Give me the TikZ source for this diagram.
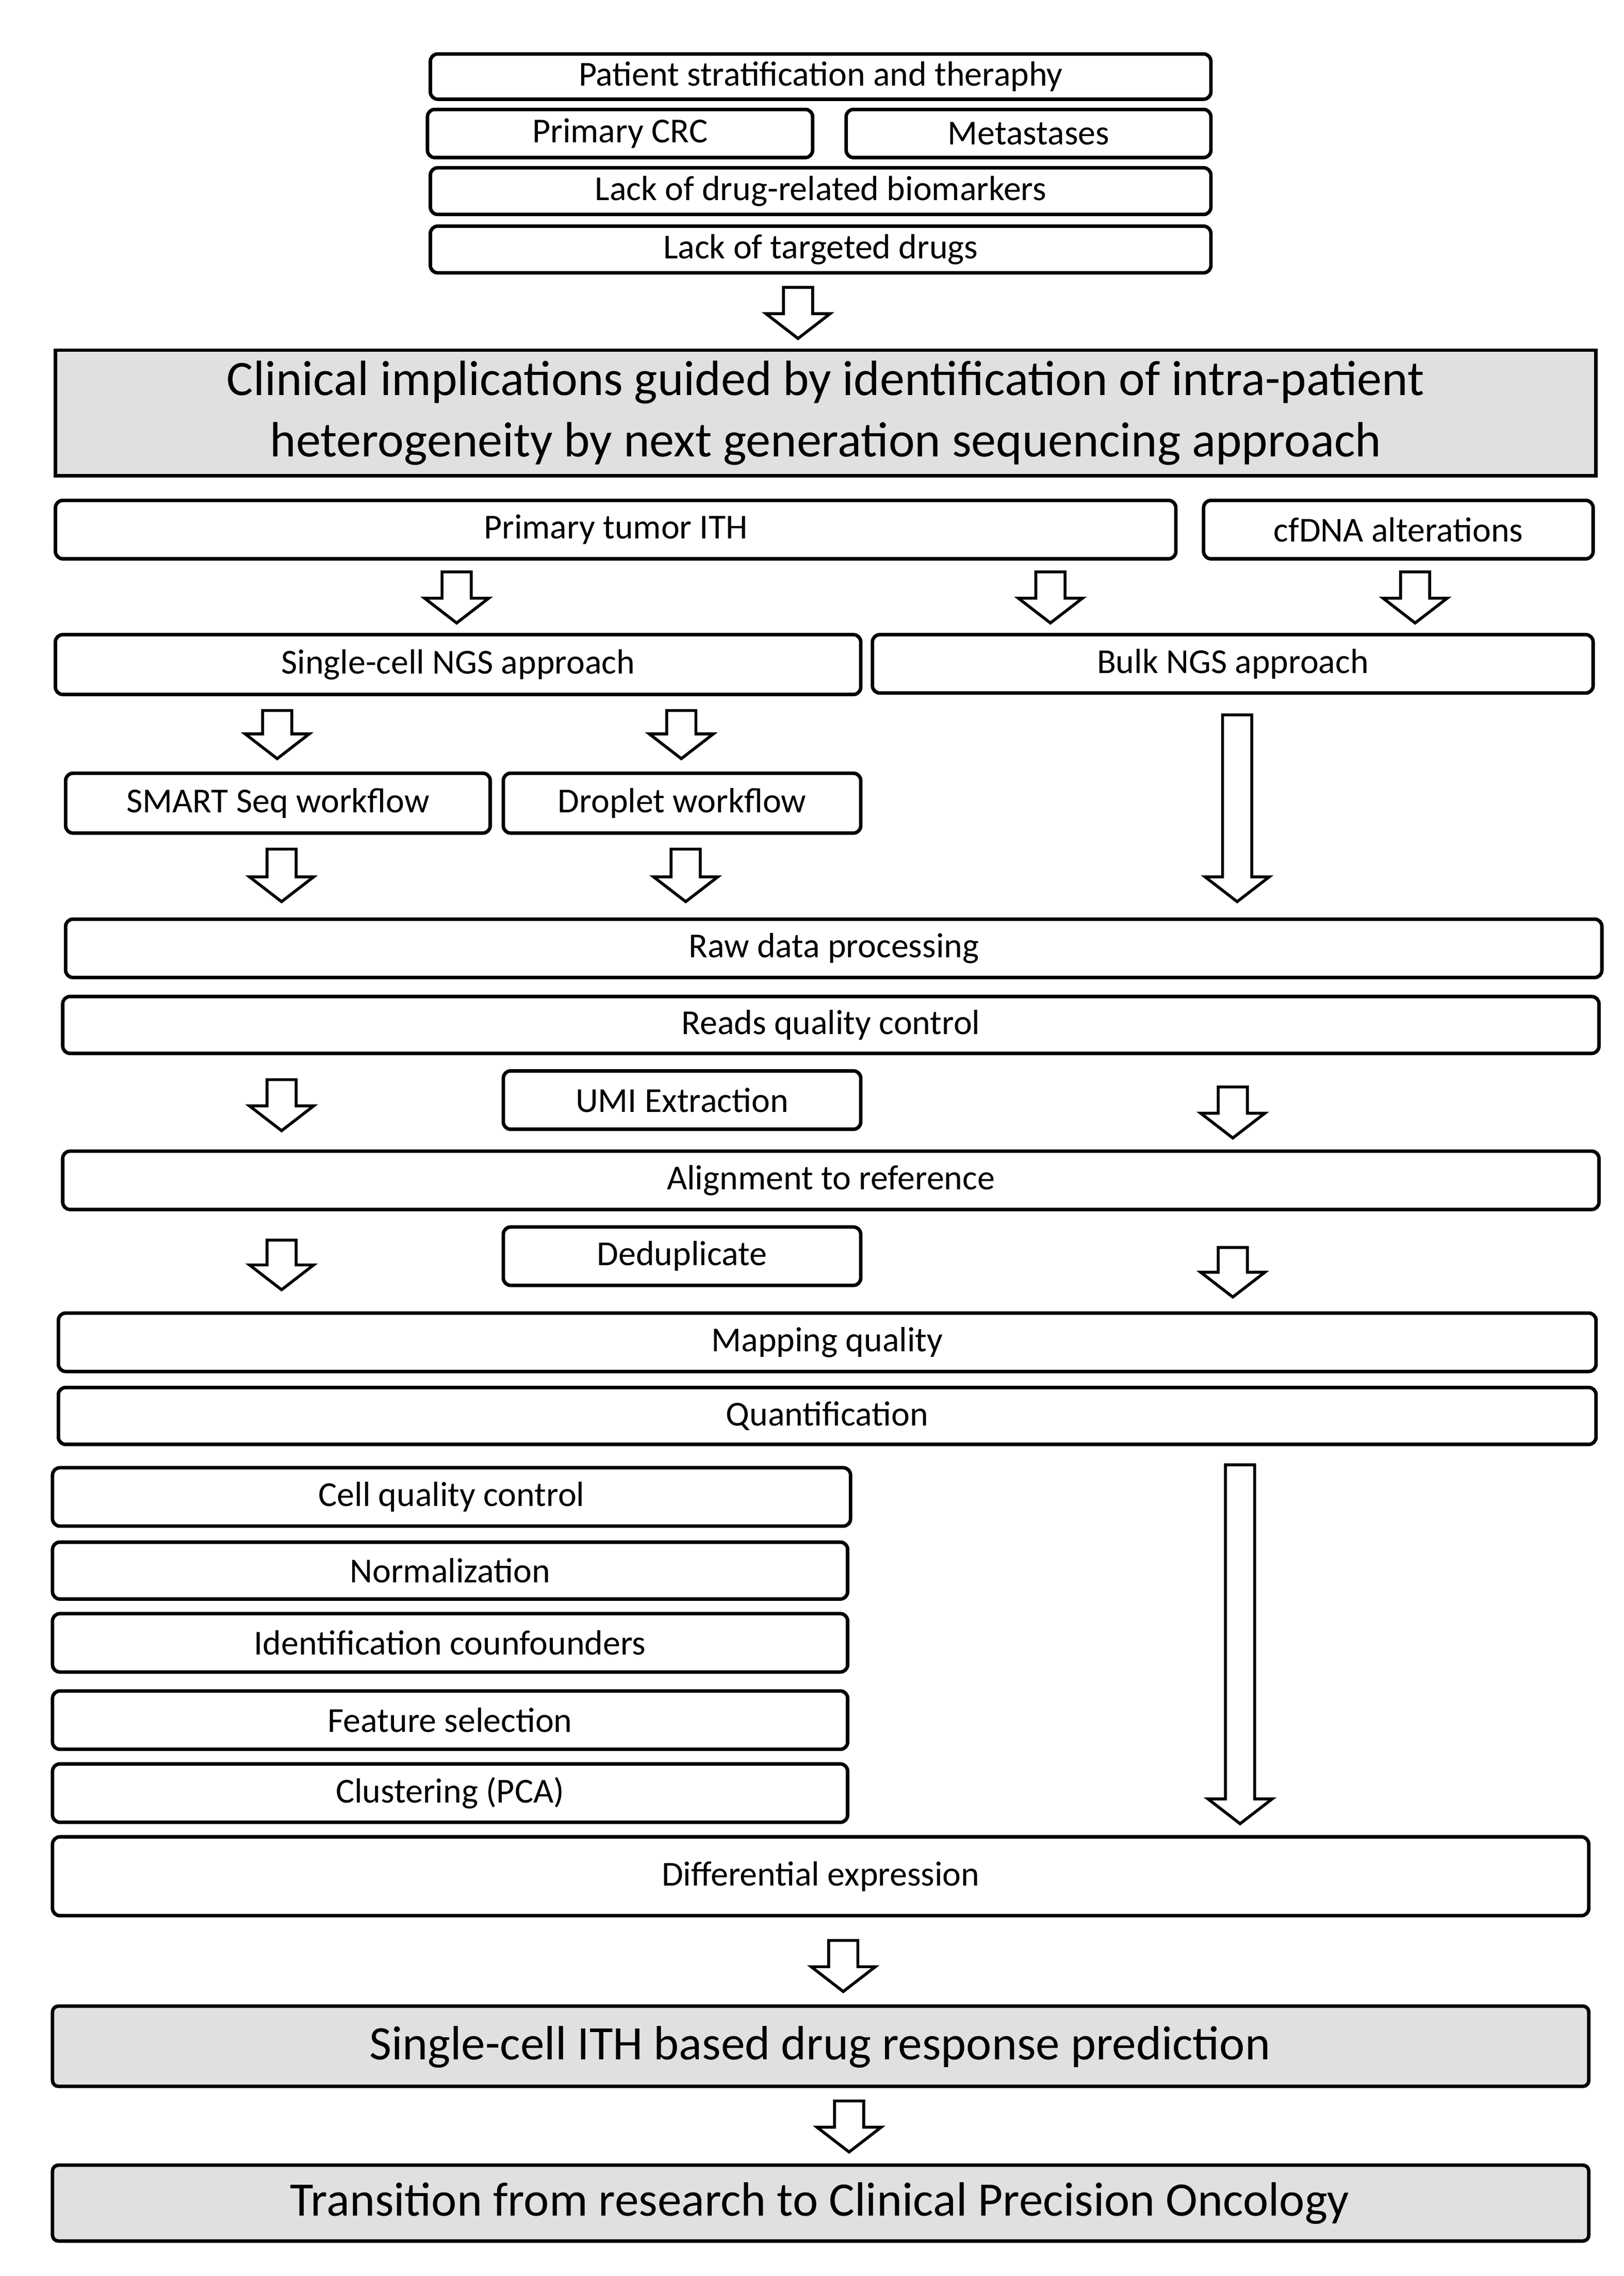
\documentclass[tikz,border=0pt]{standalone}
\usepackage{fontspec}
\setmainfont{Carlito}
\begin{document}
\begin{tikzpicture}[x=1pt,y=-1pt,
  bx/.style={draw,line width=2.4pt,rounded corners=5pt,inner sep=0pt,font=\fontsize{24}{28}\selectfont},
  gbx/.style={bx,fill=black!12,rounded corners=4pt},
  ha/.style={draw,line width=2pt,fill=white,line join=miter}]
\useasboundingbox (0,0) rectangle (1113,1560);
\newcommand\B[6][bx]{\draw[#1] (#2,#3) rectangle (#4,#5);
  \node[font=\fontsize{24}{28}\selectfont] at ({(#2+#4)/2},{(#3+#5)/2}) {#6};}
% hollow arrow: x, ytop, ybottom
\newcommand\HA[3]{\draw[ha] ({#1-10},#2) -- ({#1+10},#2) -- ({#1+10},{#3-17}) -- ({#1+22},{#3-17}) -- (#1,#3) -- ({#1-22},{#3-17}) -- ({#1-10},{#3-17}) -- cycle;}
\B{295}{37}{830}{68}{Patient stratification and theraphy}
\B{293}{75}{557}{108}{Primary CRC}
\B{580}{75}{830}{108}{Metastases}
\B{295}{115}{830}{147}{Lack of drug-related biomarkers}
\B{295}{155}{830}{187}{Lack of targeted drugs}
\HA{547}{197}{232}
\draw[fill=black!12,line width=2.4pt] (38,240) rectangle (1094,326);
\node[align=center,font=\fontsize{34}{42}\selectfont] (t) at (566,283) {Clinical implications guided by identification of intra-patient\\heterogeneity by next generation sequencing approach};
\B{38}{343}{806}{383}{Primary tumor ITH}
\B{825}{343}{1092}{383}{cfDNA alterations}
\HA{313}{392}{427}\HA{720}{392}{427}\HA{970}{392}{427}
\B{38}{435}{590}{476}{Single-cell NGS approach}
\B{598}{435}{1092}{475}{Bulk NGS approach}
\HA{190}{487}{520}\HA{467}{487}{520}
\HA{848}{490}{618}
\B{45}{530}{336}{571}{SMART Seq workflow}
\B{345}{530}{590}{571}{Droplet workflow}
\HA{193}{582}{618}\HA{470}{582}{618}
\B{45}{630}{1098}{670}{Raw data processing}
\B{43}{683}{1096}{722}{Reads quality control}
\HA{193}{740}{775}\HA{845}{745}{780}
\B{345}{734}{590}{774}{UMI Extraction}
\B{43}{789}{1096}{829}{Alignment to reference}
\HA{193}{850}{884}\HA{845}{855}{889}
\B{345}{841}{590}{881}{Deduplicate}
\B{40}{900}{1094}{940}{Mapping quality}
\B{40}{951}{1094}{990}{Quantification}
\B{36}{1006}{583}{1046}{Cell quality control}
\B{36}{1057}{581}{1096}{Normalization}
\B{36}{1106}{581}{1146}{Identification counfounders}
\B{36}{1159}{581}{1199}{Feature selection}
\B{36}{1209}{581}{1249}{Clustering (PCA)}
\HA{850}{1004}{1250}
\B{36}{1259}{1089}{1313}{Differential expression}
\HA{578}{1330}{1365}
\draw[gbx] (36,1375) rectangle (1089,1430);
\node[font=\fontsize{33}{40}\selectfont] (s) at (562,1403) {Single-cell ITH based drug response prediction};
\HA{582}{1440}{1475}
\draw[gbx] (36,1484) rectangle (1089,1536);
\node[font=\fontsize{33}{40}\selectfont] (r) at (562,1510) {Transition from research to Clinical Precision Oncology};
\end{tikzpicture}
\end{document}
